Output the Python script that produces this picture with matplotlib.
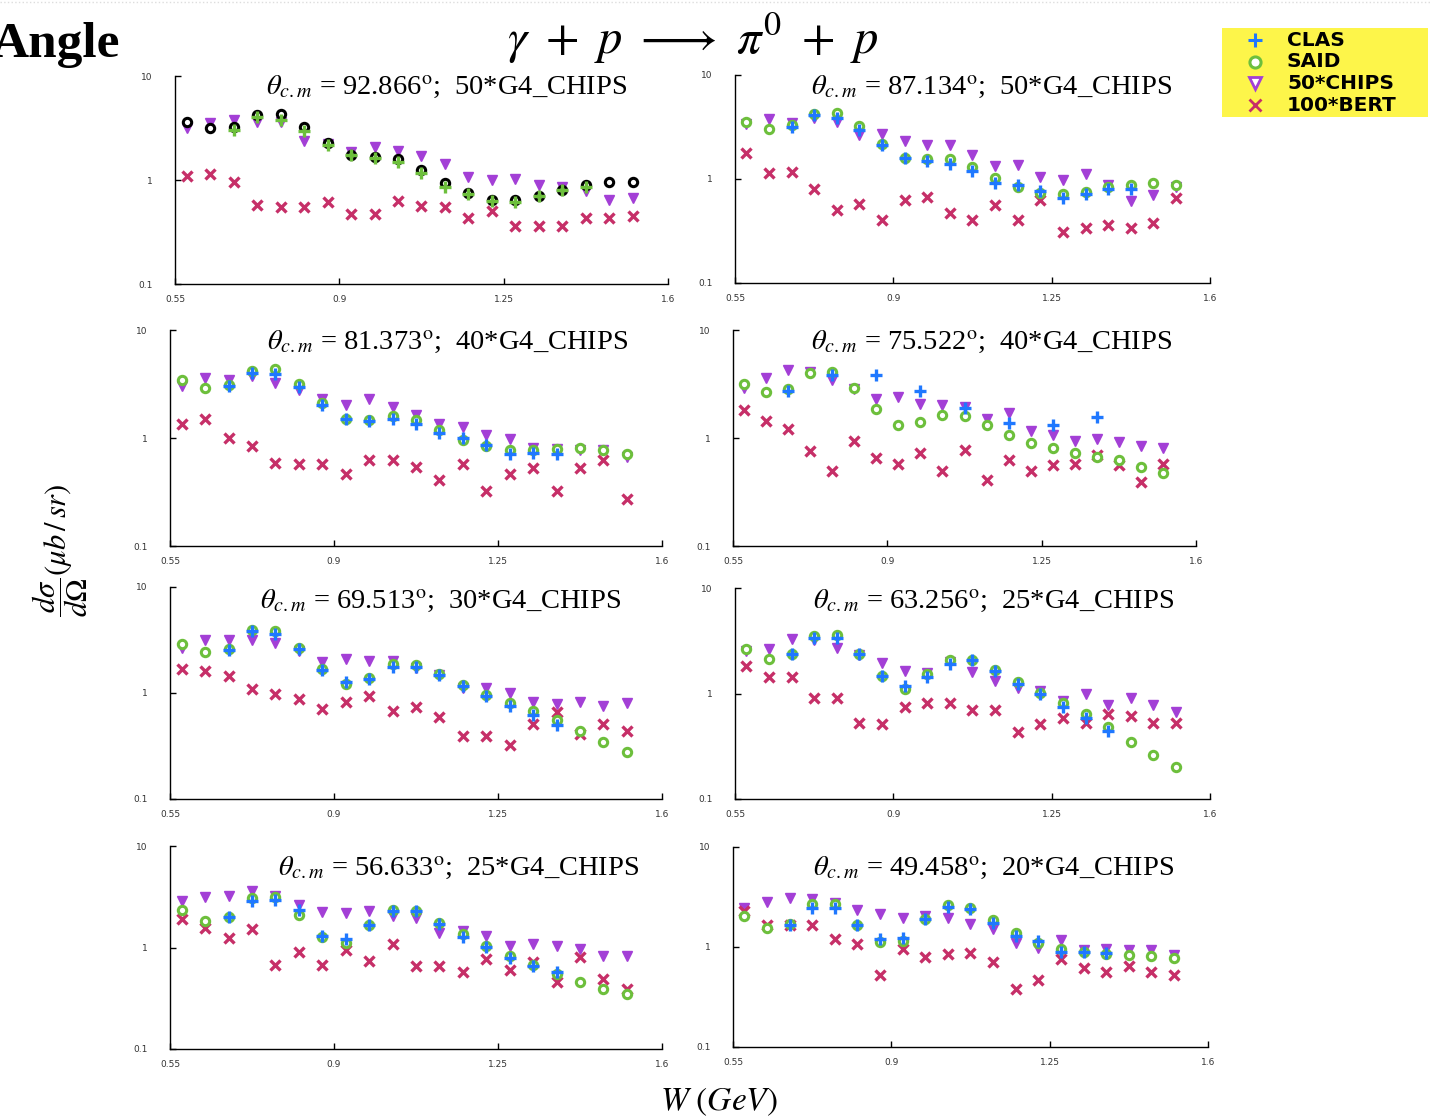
import numpy as np
import matplotlib
matplotlib.use("Agg")
import matplotlib.pyplot as plt
from matplotlib.lines import Line2D
from matplotlib.patches import Rectangle
from matplotlib.ticker import FixedLocator, FixedFormatter, NullLocator

plt.rcParams["mathtext.fontset"] = "stix"
plt.rcParams["font.family"] = ["Liberation Serif", "DejaVu Serif"]

nan = np.nan

# W bins (GeV), shared by every angle
W = [0.575, 0.625, 0.675, 0.725, 0.775, 0.825, 0.875, 0.925, 0.975, 1.025,
     1.075, 1.125, 1.175, 1.225, 1.275, 1.325, 1.375, 1.425, 1.475, 1.525]

ANGLES = ["92.866", "87.134", "81.373", "75.522", "69.513", "63.256", "56.633", "49.458"]
CHIPS_SCALE = [50, 50, 40, 40, 30, 25, 25, 20]

# dsigma/dOmega (ub/sr) for each angle
CLAS_92 = [nan, nan, 3.02, 4.0, 3.77, 2.98, 2.19, 1.74, 1.63, 1.48, 1.18, 0.85, 0.73, 0.63, 0.62, 0.70, 0.80, 0.85, nan, nan]
SAID_92 = [3.64, 3.14, 3.21, 4.25, 4.31, 3.21, 2.27, 1.75, 1.65, 1.59, 1.26, 0.93, 0.745, 0.647, 0.647, 0.70, 0.80, 0.90, 0.96, 0.96]
CHIPS_92 = [3.14, 3.5, 3.8, 3.6, 3.6, 2.35, 2.22, 1.85, 2.06, 1.91, 1.71, 1.43, 1.06, 1.0, 1.02, 0.90, 0.85, 0.78, 0.64, 0.67]
BERT_92 = [1.10, 1.13, 0.95, 0.58, 0.55, 0.55, 0.61, 0.47, 0.47, 0.63, 0.56, 0.55, 0.43, 0.50, 0.36, 0.36, 0.36, 0.43, 0.43, 0.45]

CLAS_87 = [nan, nan, 3.15, 4.17, 3.87, 2.99, 2.10, 1.59, 1.48, 1.40, 1.19, 0.91, 0.88, 0.76, 0.66, 0.72, 0.80, 0.80, nan, nan]
SAID_87 = [3.57, 3.04, 3.27, 4.24, 4.33, 3.20, 2.18, 1.59, 1.56, 1.56, 1.31, 1.02, 0.83, 0.73, 0.72, 0.75, 0.84, 0.88, 0.91, 0.88]
CHIPS_87 = [3.39, 3.79, 3.47, 3.84, 3.52, 2.62, 2.68, 2.34, 2.10, 2.14, 1.72, 1.34, 1.37, 1.05, 0.98, 1.12, 0.88, 0.61, 0.70, 0.84]
BERT_87 = [1.77, 1.14, 1.18, 0.80, 0.50, 0.58, 0.40, 0.63, 0.67, 0.47, 0.40, 0.56, 0.40, 0.63, 0.31, 0.34, 0.36, 0.34, 0.38, 0.66]

CLAS_81 = [nan, nan, 3.03, 4.03, 3.95, 2.96, 2.04, 1.50, 1.45, 1.51, 1.36, 1.11, 1.0, 0.87, 0.71, 0.72, 0.71, nan, nan, nan]
SAID_81 = [3.45, 2.92, 3.07, 4.18, 4.33, 3.14, 2.09, 1.51, 1.48, 1.59, 1.46, 1.18, 0.96, 0.84, 0.78, 0.77, 0.79, 0.81, 0.78, 0.71]
CHIPS_81 = [3.03, 3.62, 3.42, 3.76, 3.20, 2.76, 2.31, 2.0, 2.31, 1.94, 1.65, 1.36, 1.26, 1.07, 0.98, 0.81, 0.79, 0.78, 0.77, 0.67]
BERT_81 = [1.35, 1.50, 0.99, 0.85, 0.59, 0.57, 0.57, 0.46, 0.62, 0.62, 0.54, 0.41, 0.57, 0.32, 0.46, 0.53, 0.32, 0.53, 0.62, 0.27]

CLAS_75 = [nan, nan, 2.72, nan, 3.81, nan, 3.81, nan, 2.70, nan, 1.90, nan, 1.38, nan, 1.33, nan, 1.58, nan, nan, nan]
SAID_75 = [3.18, 2.66, 2.86, 4.0, 4.09, 2.90, 1.86, 1.33, 1.40, 1.65, 1.59, 1.32, 1.07, 0.90, 0.80, 0.72, 0.67, 0.62, 0.54, 0.47]
CHIPS_75 = [2.90, 3.60, 4.24, 4.09, 3.42, 2.86, 2.28, 2.39, 2.07, 2.0, 1.93, 1.50, 1.70, 1.17, 1.07, 0.94, 0.98, 0.91, 0.85, 0.80]
BERT_75 = [1.82, 1.45, 1.21, 0.75, 0.49, 0.93, 0.65, 0.58, 0.72, 0.49, 0.77, 0.41, 0.62, 0.49, 0.56, 0.58, 0.70, 0.56, 0.39, 0.58]

CLAS_69 = [nan, nan, 2.56, 3.82, 3.63, 2.60, 1.66, 1.26, 1.37, 1.76, 1.76, 1.47, 1.17, 0.93, 0.75, 0.62, 0.50, nan, nan, nan]
SAID_69 = [2.92, 2.42, 2.60, 3.90, 3.87, 2.66, 1.68, 1.22, 1.39, 1.88, 1.82, 1.52, 1.20, 0.96, 0.80, 0.67, 0.56, 0.44, 0.345, 0.275]
CHIPS_69 = [2.66, 3.14, 3.19, 3.19, 2.96, 2.47, 1.96, 2.11, 2.02, 1.99, 1.72, 1.49, 1.11, 1.11, 1.0, 0.83, 0.78, 0.82, 0.76, 0.80]
BERT_69 = [1.70, 1.62, 1.44, 1.10, 0.98, 0.88, 0.71, 0.82, 0.94, 0.68, 0.73, 0.59, 0.39, 0.39, 0.32, 0.51, 0.66, 0.41, 0.51, 0.44]

CLAS_63 = [nan, nan, 2.35, 3.37, 3.37, 2.35, 1.47, 1.17, 1.42, 1.92, 2.06, 1.64, 1.22, 1.0, 0.74, 0.58, 0.44, nan, nan, nan]
SAID_63 = [2.62, 2.11, 2.35, 3.47, 3.55, 2.35, 1.46, 1.11, 1.52, 2.06, 2.06, 1.68, 1.29, 1.02, 0.82, 0.64, 0.485, 0.35, 0.26, 0.20]
CHIPS_63 = [2.53, 2.66, 3.30, 3.23, 2.72, 2.30, 1.95, 1.64, 1.58, 1.99, 1.60, 1.32, 1.13, 1.05, 0.85, 0.99, 0.78, 0.90, 0.78, 0.67]
BERT_63 = [1.82, 1.44, 1.44, 0.90, 0.90, 0.53, 0.51, 0.74, 0.82, 0.82, 0.70, 0.70, 0.43, 0.51, 0.59, 0.53, 0.64, 0.61, 0.53, 0.53]

CLAS_56 = [nan, nan, 1.99, 2.84, 2.95, 2.35, 1.31, 1.21, 1.67, 2.27, 2.27, 1.71, 1.26, 1.01, 0.78, 0.66, 0.57, nan, nan, nan]
SAID_56 = [2.32, 1.83, 2.02, 3.07, 3.14, 2.07, 1.28, 1.10, 1.67, 2.35, 2.27, 1.76, 1.36, 1.04, 0.83, 0.67, 0.545, 0.455, 0.39, 0.35]
CHIPS_56 = [2.84, 3.11, 3.23, 3.57, 3.19, 2.60, 2.23, 2.18, 2.30, 2.05, 1.95, 1.39, 1.46, 1.31, 1.04, 1.09, 1.04, 0.96, 0.83, 0.83]
BERT_56 = [1.92, 1.55, 1.25, 1.52, 0.68, 0.90, 0.68, 0.95, 0.74, 1.08, 0.66, 0.66, 0.57, 0.77, 0.60, 0.72, 0.46, 0.80, 0.49, 0.39]

CLAS_49 = [nan, nan, 1.67, 2.45, 2.45, 1.67, 1.19, 1.23, 1.89, 2.51, 2.38, 1.75, 1.29, 1.15, 0.90, 0.89, 0.88, nan, nan, nan]
SAID_49 = [2.04, 1.56, 1.71, 2.67, 2.67, 1.67, 1.12, 1.15, 1.89, 2.61, 2.45, 1.85, 1.39, 1.10, 0.96, 0.89, 0.86, 0.84, 0.81, 0.78]
CHIPS_49 = [2.45, 2.82, 3.11, 2.99, 2.77, 2.33, 2.12, 1.95, 2.04, 1.95, 1.71, 1.52, 1.10, 0.98, 1.17, 0.93, 0.95, 0.93, 0.93, 0.84]
BERT_49 = [2.29, 1.65, 1.65, 1.65, 1.21, 1.06, 0.53, 0.95, 0.79, 0.86, 0.88, 0.71, 0.38, 0.47, 0.76, 0.62, 0.56, 0.65, 0.56, 0.53]

PANELS = [
    (CLAS_92, SAID_92, CHIPS_92, BERT_92),
    (CLAS_87, SAID_87, CHIPS_87, BERT_87),
    (CLAS_81, SAID_81, CHIPS_81, BERT_81),
    (CLAS_75, SAID_75, CHIPS_75, BERT_75),
    (CLAS_69, SAID_69, CHIPS_69, BERT_69),
    (CLAS_63, SAID_63, CHIPS_63, BERT_63),
    (CLAS_56, SAID_56, CHIPS_56, BERT_56),
    (CLAS_49, SAID_49, CHIPS_49, BERT_49),
]

X_TICKS = [0.55, 0.9, 1.25, 1.6]
X_TICK_LABELS = ["0.55", "0.9", "1.25", "1.6"]
Y_TICKS = [0.1, 1, 10]
Y_TICK_LABELS = ["0.1", "1", "10"]

BLUE = "#1f78ff"
GREEN = "#6dbf3c"
PURPLE = "#a33fd6"
CRIMSON = "#c62f68"

FIG_W, FIG_H = 1431, 1117

# axes boxes in pixels: x_left, x_right, y_top, y_bottom
BOXES = [
    (175, 668, 76, 284), (735, 1210, 75, 283),
    (170, 662, 330, 546), (733, 1196, 330, 546),
    (170, 662, 587, 799), (735, 1210, 588, 799),
    (170, 662, 846, 1049), (733, 1208, 847, 1047),
]
TITLE_POS = [(447, 87), (992, 87), (448, 342), (992, 342),
             (441, 601), (994, 601), (459, 868), (994, 868)]


def px_rect(x0, x1, y0, y1):
    return [x0 / FIG_W, 1 - y1 / FIG_H, (x1 - x0) / FIG_W, (y1 - y0) / FIG_H]


fig = plt.figure(figsize=(FIG_W / 100, FIG_H / 100), dpi=100)

for i, (clas, said, chips, bert) in enumerate(PANELS):
    ax = fig.add_axes(px_rect(*BOXES[i]))
    ax.set_yscale("log")
    ax.set_xlim(0.55, 1.6)
    ax.set_ylim(0.1, 10)

    clas_color = GREEN if i == 0 else BLUE
    said_color = "black" if i == 0 else GREEN

    ax.plot(W, chips, "v", ms=7.5, color=PURPLE, mec=PURPLE, ls="none")
    ax.plot(W, bert, "x", ms=6.5, mew=2.4, color=CRIMSON, ls="none")
    ax.plot(W, said, "o", ms=6, mfc="white", mec=said_color, mew=2.2, ls="none")
    ax.plot(W, clas, "+", ms=8, mew=2.4, color=clas_color, ls="none")

    for side in ("top", "right"):
        ax.spines[side].set_visible(False)
    for side in ("left", "bottom"):
        ax.spines[side].set_linewidth(1.0)
    ax.xaxis.set_major_locator(FixedLocator(X_TICKS))
    ax.xaxis.set_major_formatter(FixedFormatter(X_TICK_LABELS))
    ax.yaxis.set_major_locator(FixedLocator(Y_TICKS))
    ax.yaxis.set_major_formatter(FixedFormatter(Y_TICK_LABELS))
    ax.yaxis.set_minor_locator(NullLocator())
    ax.tick_params(direction="in", length=4, width=1, labelsize=6.5,
                   labelcolor="#333333")
    ax.tick_params(axis="x", pad=8)
    ax.tick_params(axis="y", pad=16)
    for lbl in ax.get_xticklabels() + ax.get_yticklabels():
        lbl.set_family("DejaVu Sans")

    tx, ty = TITLE_POS[i]
    fig.text(tx / FIG_W, 1 - ty / FIG_H,
             r"$\theta_{c.m}$ = %s$^{\rm o}$;  %d*G4_CHIPS" % (ANGLES[i], CHIPS_SCALE[i]),
             ha="center", va="center", fontsize=20.5)

# reaction and page heading
fig.text(693 / FIG_W, 1 - 38 / FIG_H,
         r"$\gamma\ +\ p\ \longrightarrow\ \pi^{0}\ +\ p$",
         ha="center", va="center", fontsize=35)
fig.text(-8 / FIG_W, 1 - 45 / FIG_H, "Angle", ha="left", va="center",
         fontsize=37, fontweight="bold")
fig.add_artist(Line2D([0, 1], [1 - 2 / FIG_H] * 2, ls=":", lw=1, color="#dddddd"))

# axis labels
fig.text(60 / FIG_W, 1 - 550 / FIG_H, r"$\dfrac{d\sigma}{d\Omega}(\mu b\,/\,sr)$",
         ha="center", va="center", rotation=90, fontsize=22)
fig.text(719 / FIG_W, 1 - 1102 / FIG_H, r"$W\ (GeV)$", ha="center", va="center",
         fontsize=24)

# legend box
fig.add_artist(Rectangle((1222 / FIG_W, 1 - 117 / FIG_H), 206 / FIG_W, 89 / FIG_H,
                         transform=fig.transFigure, facecolor="#fdf54a",
                         edgecolor="none"))
legend_items = [
    ("CLAS", dict(marker="+", ms=10, mew=2.2, color=BLUE)),
    ("SAID", dict(marker="o", ms=8, mew=2.2, mfc="white", mec=GREEN)),
    ("50*CHIPS", dict(marker="v", ms=9, mew=2.0, mfc="white", mec=PURPLE)),
    ("100*BERT", dict(marker="x", ms=8, mew=2.0, color=CRIMSON)),
]
for j, (label, style) in enumerate(legend_items):
    yy = 1 - (40 + j * 21.7) / FIG_H
    fig.add_artist(Line2D([1255 / FIG_W], [yy], ls="none", transform=fig.transFigure,
                          **style))
    fig.text(1287 / FIG_W, yy, label, ha="left", va="center", fontsize=14.5,
             fontweight="bold", family=["DejaVu Sans"])

fig.savefig("out.png", dpi=100)
